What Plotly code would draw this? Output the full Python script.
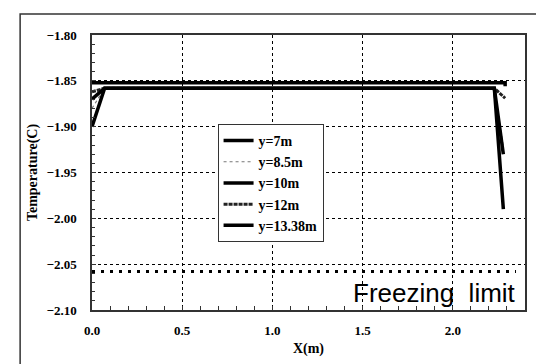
import plotly.graph_objects as go

# ---- data ----
names = ["y=7m", "y=8.5m", "y=10m", "y=12m", "y=13.38m"]
x_7 = [0.0, 2.29, 2.29]
t_7 = [-1.852, -1.852, -1.856]
x_85 = [0.0, 0.07, 2.23, 2.28]
t_85 = [-1.880, -1.858, -1.858, -1.922]
x_10 = [0.0, 0.07, 2.23, 2.28]
t_10 = [-1.900, -1.858, -1.858, -1.990]
x_12 = [0.0, 0.07, 2.23, 2.29]
t_12 = [-1.862, -1.858, -1.858, -1.869]
x_1338 = [0.0, 0.07, 2.23, 2.28]
t_1338 = [-1.870, -1.858, -1.858, -1.930]
freeze_x = [0.0, 2.35]
freeze_t = [-2.058, -2.058]
freeze_label = "Freezing  limit"

x_ticks = [0.0, 0.5, 1.0, 1.5, 2.0]
y_ticks = [-2.10, -2.05, -2.00, -1.95, -1.90, -1.85, -1.80]

series = [
    (names[0], x_7, t_7, dict(color="black", width=3.5)),
    (names[1], x_85, t_85, dict(color="#777777", width=1.2, dash="dot")),
    (names[2], x_10, t_10, dict(color="black", width=3.5)),
    (names[3], x_12, t_12, dict(color="#222222", width=3, dash="4px,1px")),
    (names[4], x_1338, t_1338, dict(color="black", width=3.5)),
]

fig = go.Figure()
for nm, xs, ts, ln in series:
    fig.add_trace(go.Scatter(x=xs, y=ts, mode="lines", name=nm, line=ln))

fig.add_trace(go.Scatter(x=freeze_x, y=freeze_t, mode="lines", showlegend=False,
                         line=dict(color="black", width=3, dash="3px,6px")))

fig.add_annotation(x=2.36, y=-2.081, xref="x", yref="y", text=freeze_label,
                   showarrow=False, xanchor="right", yanchor="middle",
                   font=dict(family="Liberation Sans", size=26, color="black"))

serif = "Liberation Serif"
fig.update_xaxes(
    range=[0, 2.4], tickvals=x_ticks, tickformat=".1f",
    showgrid=True, gridcolor="black", griddash="dot", gridwidth=1,
    showline=True, mirror=True, linecolor="#333333", linewidth=1.5,
    ticks="inside", ticklen=4, tickcolor="#333333",
    minor=dict(dtick=0.1, ticks="inside", ticklen=4, tickcolor="#333333", showgrid=False),
    tickfont=dict(family=serif, size=13, color="black", weight="bold"),
    ticklabelstandoff=8,
    title=dict(text="X(m)", font=dict(family=serif, size=14, color="black", weight="bold"),
               standoff=6),
    zeroline=False,
)
fig.update_yaxes(
    range=[-2.10, -1.80], tickvals=y_ticks, tickformat=".2f",
    showgrid=True, gridcolor="black", griddash="dot", gridwidth=1,
    showline=True, mirror=True, linecolor="#333333", linewidth=1.5,
    ticks="inside", ticklen=4, tickcolor="#333333",
    minor=dict(dtick=0.01, ticks="inside", ticklen=3, tickcolor="#333333", showgrid=False),
    tickfont=dict(family=serif, size=13, color="black", weight="bold"),
    ticklabelstandoff=11,
    title=dict(text="Temperature(C)", font=dict(family=serif, size=14, color="black", weight="bold"),
               standoff=6),
    zeroline=False,
)

fig.add_shape(type="rect", xref="paper", yref="paper",
              x0=-0.166, x1=1.051, y0=-0.2036, y1=1.076,
              line=dict(color="#333333", width=1.5), layer="below")

fig.update_layout(
    width=544, height=364,
    margin=dict(l=84, r=27, t=27, b=62),
    paper_bgcolor="white", plot_bgcolor="white",
    showlegend=True,
    legend=dict(x=0.29, y=0.462, xanchor="left", yanchor="middle",
                bgcolor="white", bordercolor="#333333", borderwidth=1,
                font=dict(family=serif, size=14, color="black", weight="bold"),
                itemwidth=30, tracegroupgap=0),
)

fig.write_html("out.html")
